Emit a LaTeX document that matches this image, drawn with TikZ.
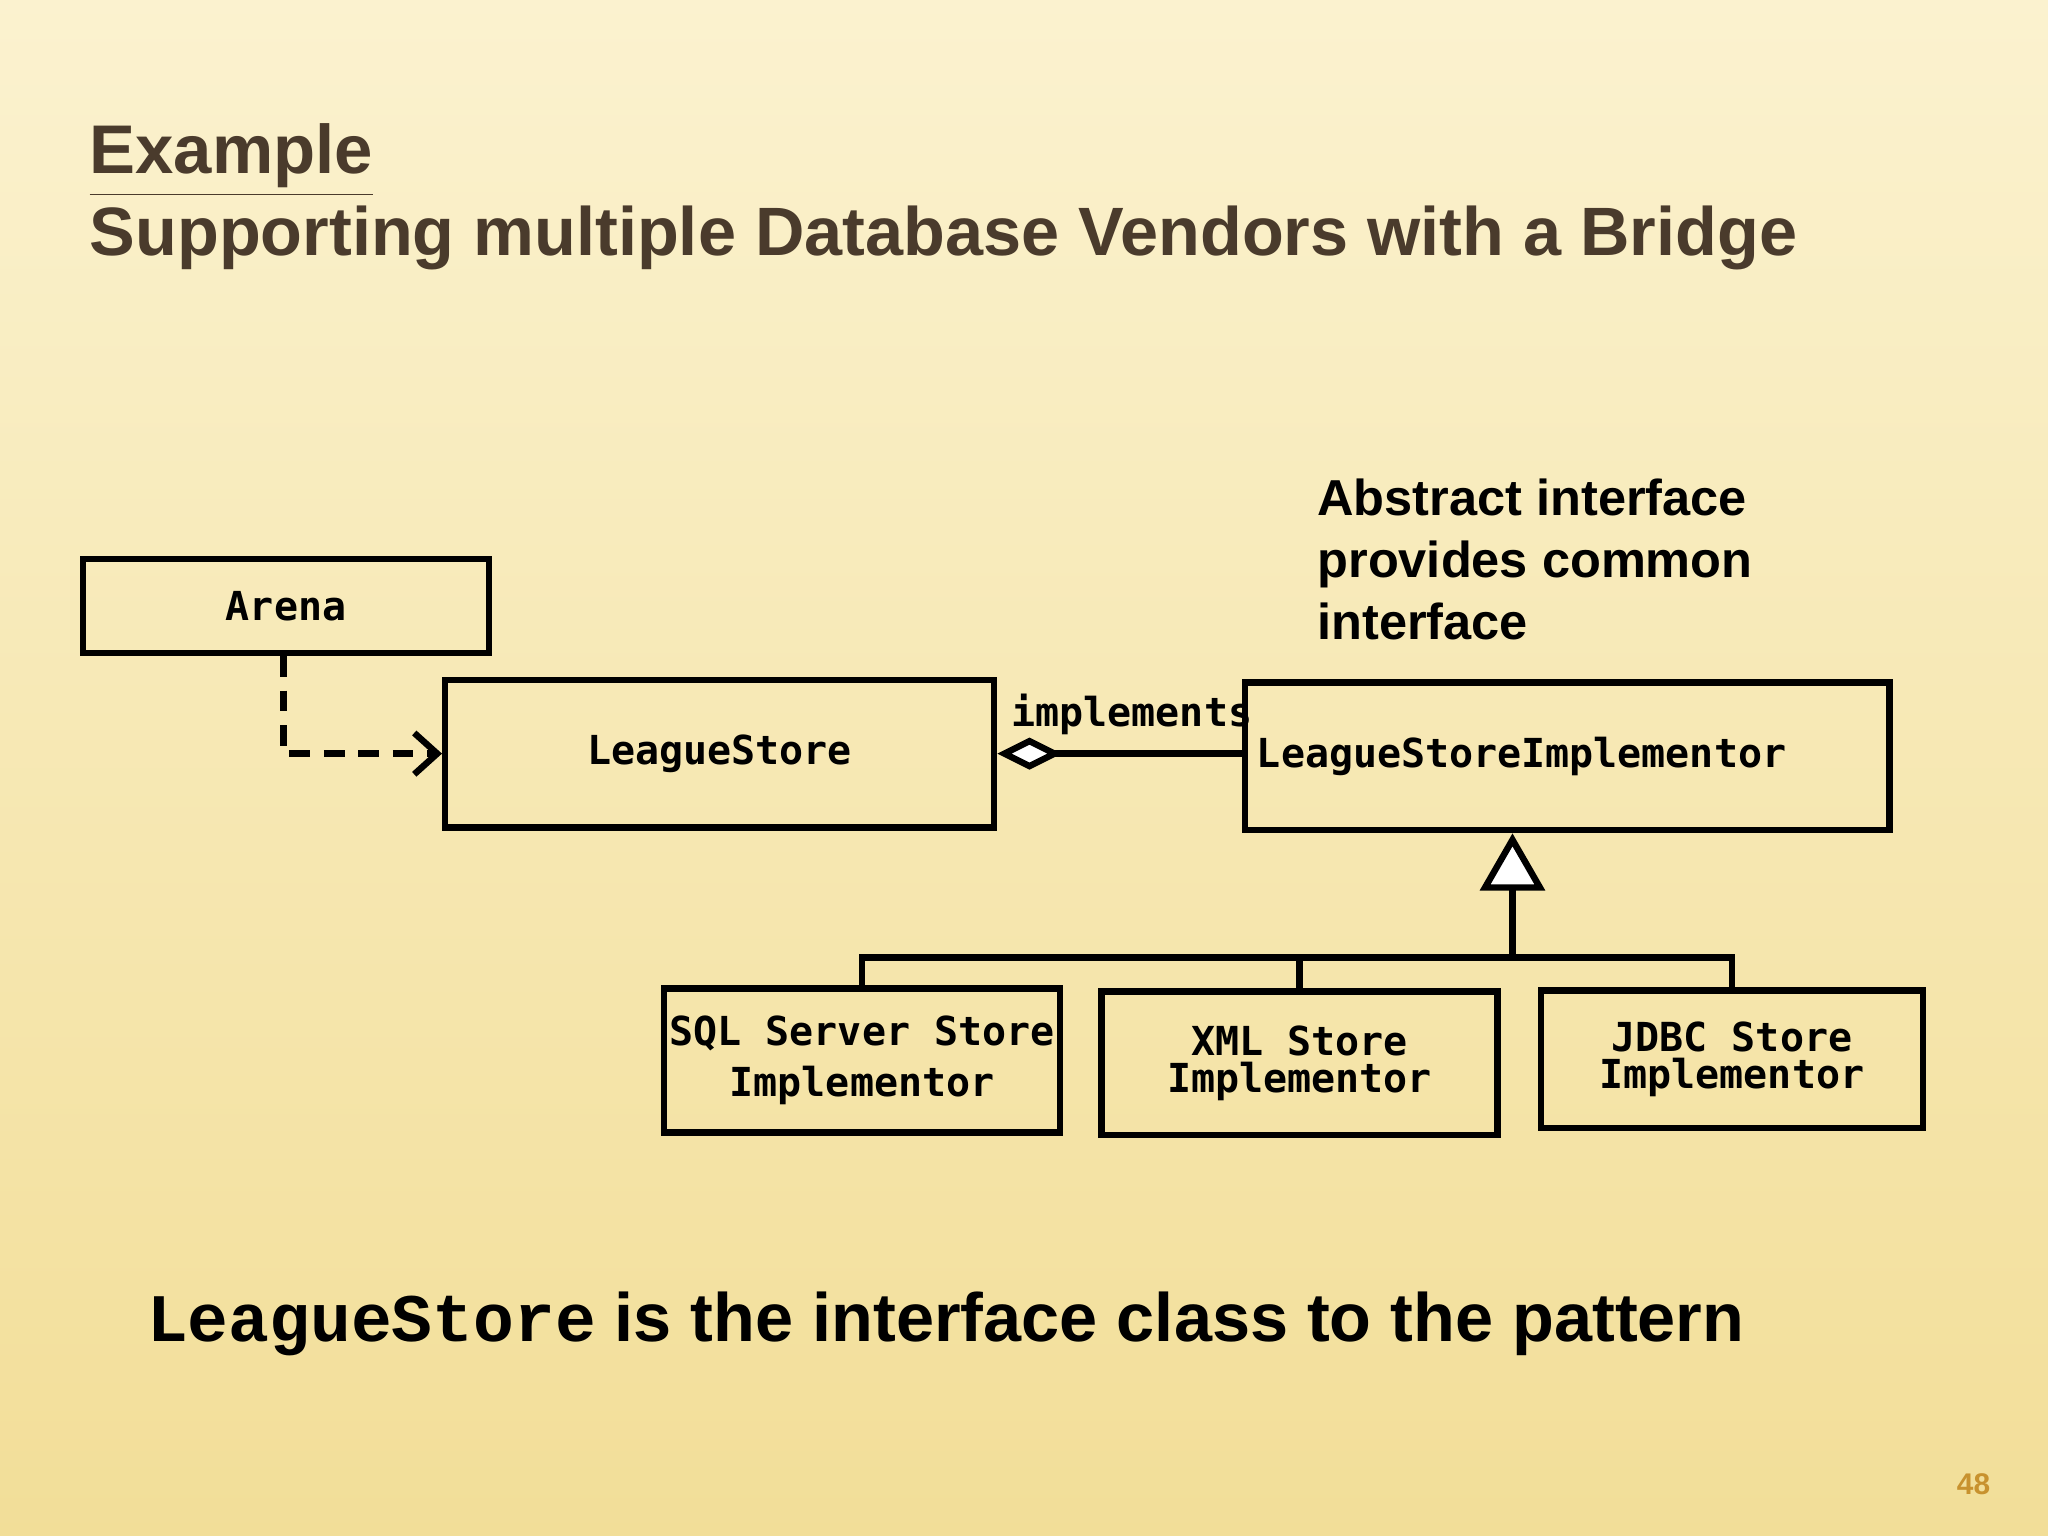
\documentclass[tikz,border=0pt]{standalone}
\usepackage{fontspec}
\setmainfont{Liberation Sans}
\newfontfamily\boxfont{DejaVu Sans Mono}
\newfontfamily\courfont{Liberation Mono}
\usetikzlibrary{arrows.meta,shapes.geometric}
\definecolor{titlebrown}{HTML}{4A3B2C}
\definecolor{bgtop}{HTML}{FBF2CF}
\definecolor{bgbot}{HTML}{F2DE98}
\definecolor{pagenum}{HTML}{C8922E}
\tikzset{
  cls/.style={draw, line width=1.4pt, inner sep=0pt, font=\boxfont\bfseries\fontsize{8.7pt}{11pt}\selectfont, align=center},
  link/.style={line width=1.4pt},
}
\begin{document}
\begin{tikzpicture}[x=0.01cm,y=-0.01cm]
\shade[top color=bgtop, bottom color=bgbot] (0,0) rectangle (1568,1176);
\useasboundingbox (0,0) rectangle (1568,1176);
% title
\node[anchor=base west, inner sep=0pt, text=titlebrown, font=\bfseries\fontsize{15pt}{18pt}\selectfont] (t1) at (68,133) {\underline{Example}};
\node[anchor=base west, inner sep=0pt, text=titlebrown, font=\bfseries\fontsize{14.9pt}{18pt}\selectfont] (t2) at (68,196) {Supporting multiple Database Vendors with a Bridge};
% classes
\node[cls, minimum width=3.11cm, minimum height=0.72cm] (arena) at (219,464) {Arena};
\node[cls, minimum width=4.20cm, minimum height=1.13cm] (ls) at (551,577) {LeagueStore};
\node[cls, minimum width=4.93cm, minimum height=1.13cm, text width=4.75cm, align=left] (lsi) at (1200,579) {LeagueStoreImplementor};
\node[cls, minimum width=3.03cm, minimum height=1.10cm] (sql) at (660,812) {SQL Server Store\\Implementor};
\node[cls, minimum width=3.03cm, minimum height=1.10cm] (xml) at (995,814) {XML Store\\[-3pt]Implementor};
\node[cls, minimum width=2.92cm, minimum height=1.05cm] (jdbc) at (1326,811) {JDBC Store\\[-3pt]Implementor};
% note
\node[anchor=north west, inner sep=0pt, align=left, font=\bfseries\fontsize{11pt}{13.5pt}\selectfont] (note) at (1008,366) {Abstract interface\\provides common\\interface};
% dependency
\draw[link, dash pattern=on 4.5pt off 3pt, -{Straight Barb[length=5pt,width=9pt]}] (arena.south -| 217,0) |- (ls.west);
% aggregation
\draw[link, {Diamond[open,fill=white,length=14pt,width=7pt]}-] (ls.east) -- node[above, font=\boxfont\bfseries\fontsize{8.7pt}{10pt}\selectfont, pos=0.55] {implements} (lsi.west |- ls.east);
% generalization
\coordinate (bus) at (1158,733);
\draw[link, -{Triangle[open,fill=white,length=12.5pt,width=14pt]}] (bus) -- (lsi.south -| bus);
\draw[link] (sql.north) |- (bus) -| (jdbc.north);
\draw[link] (xml.north) -- (xml.north |- bus);
% bottom
\node[anchor=base west, inner sep=0pt, font=\bfseries\fontsize{14.9pt}{18pt}\selectfont] (b) at (112,1027) {{\courfont\fontsize{14.8pt}{16pt}\selectfont LeagueStore} is the interface class to the pattern};
\node[text=pagenum, font=\bfseries\fontsize{6.5pt}{8pt}\selectfont] (pg) at (1511,1136) {48};
\end{tikzpicture}
\end{document}
